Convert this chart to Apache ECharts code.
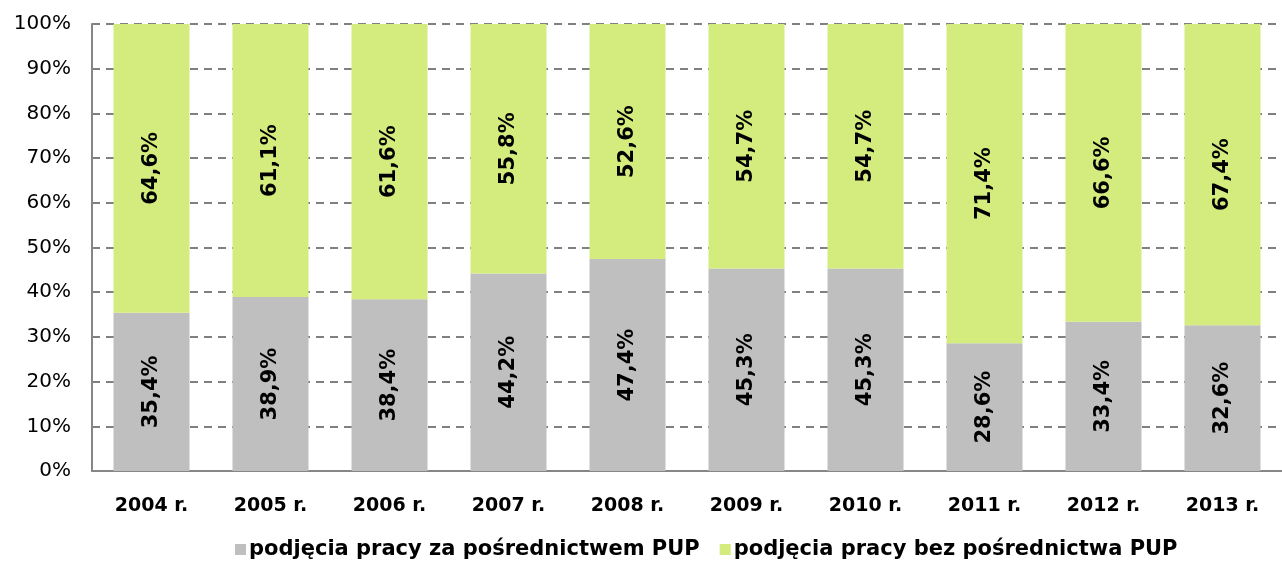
<!DOCTYPE html>
<html>
<head>
<meta charset="utf-8">
<script src="https://cdn.jsdelivr.net/npm/echarts@6/dist/echarts.min.js"></script>
<style>
  html, body { margin: 0; padding: 0; background: #fff; }
  #chart { width: 1282px; height: 561px; }
</style>
</head>
<body>
<div id="chart"></div>
<script>
// lata
const years = ['2004 r.', '2005 r.', '2006 r.', '2007 r.', '2008 r.', '2009 r.', '2010 r.', '2011 r.', '2012 r.', '2013 r.']

// udział podjęć pracy (%)
const withPup = [35.4, 38.9, 38.4, 44.2, 47.4, 45.3, 45.3, 28.6, 33.4, 32.6]
const withoutPup = [64.6, 61.1, 61.6, 55.8, 52.6, 54.7, 54.7, 71.4, 66.6, 67.4]

const seriesNames = ['podjęcia pracy za pośrednictwem PUP', 'podjęcia pracy bez pośrednictwa PUP']

// szerszy krój, bo oryginał jest lekko rozciągnięty w poziomie
const fontFamily = '"DejaVu Sans", "Liberation Sans", sans-serif'

// 12,3% zamiast 12.3%
const formatPercent = (value) => value.toFixed(1).replace('.', ',') + '%'

const barLabel = {
  show: true,
  position: 'inside',
  rotate: 90,
  fontFamily,
  fontSize: 21,
  fontWeight: 'bold',
  color: '#000',
  formatter: (p) => formatPercent(p.value),
}

const chart = echarts.init(document.getElementById('chart'))

chart.setOption({
  animation: false,
  grid: {
    left: 92,
    top: 24,
    width: 1196,
    bottom: 90,
  },
  legend: {
    left: 230,
    top: 534,
    itemWidth: 11,
    itemHeight: 11,
    itemGap: 20,
    icon: 'rect',
    textStyle: {
      fontFamily,
      fontSize: 21,
      fontWeight: 'bold',
      color: '#000',
      padding: [0, 0, 0, -2],
    },
    data: seriesNames,
  },
  xAxis: {
    type: 'category',
    data: years,
    axisLine: { lineStyle: { color: '#868686', width: 2 } },
    axisTick: { show: false },
    axisLabel: {
      margin: 26,
      fontFamily,
      fontSize: 19,
      fontWeight: 'bold',
      color: '#000',
    },
  },
  yAxis: {
    type: 'value',
    min: 0,
    max: 100,
    interval: 10,
    axisLine: { show: true, lineStyle: { color: '#868686', width: 2 } },
    axisTick: { show: false },
    axisLabel: {
      margin: 21,
      fontFamily,
      fontSize: 20,
      color: '#000',
      formatter: '{value}%',
    },
    splitLine: {
      lineStyle: { color: '#808080', width: 2, type: [8, 6] },
    },
  },
  series: [
    {
      name: seriesNames[0],
      type: 'bar',
      stack: 'total',
      barWidth: 76,
      data: withPup,
      itemStyle: { color: '#BFBFBF' },
      label: barLabel,
    },
    {
      name: seriesNames[1],
      type: 'bar',
      stack: 'total',
      barWidth: 76,
      data: withoutPup,
      itemStyle: { color: '#D4EB7E' },
      label: barLabel,
    },
  ],
})
</script>
</body>
</html>
